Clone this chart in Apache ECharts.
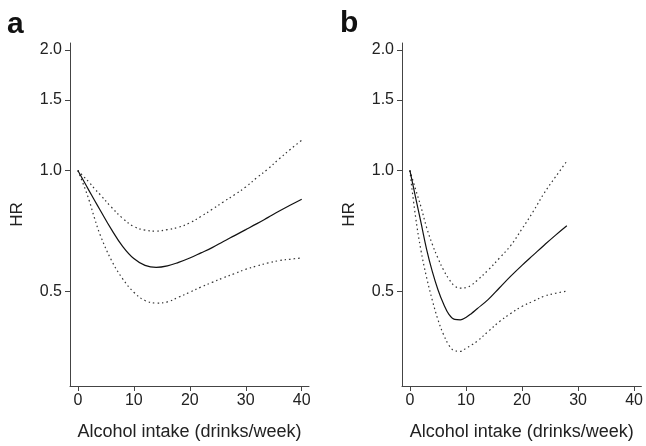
<!DOCTYPE html>
<html>
<head>
<meta charset="utf-8">
<script src="https://cdn.jsdelivr.net/npm/echarts@6/dist/echarts.min.js"></script>
<style>
  html, body { margin: 0; padding: 0; background: #fff; }
  #main { width: 646px; height: 446px; }
</style>
</head>
<body>
<div id="main"></div>
<script>
// panel a
const xA = [0, 1, 2, 3, 4, 6, 8, 10, 12, 14, 16, 18, 20, 22, 24, 26, 28, 30, 32, 34, 36, 38, 40];
const solidA = [1.0, 0.944, 0.891, 0.842, 0.796, 0.713, 0.647, 0.603, 0.58, 0.573, 0.578, 0.59, 0.605, 0.623, 0.642, 0.665, 0.688, 0.712, 0.737, 0.764, 0.792, 0.82, 0.848];
const upperA = [1.0, 0.967, 0.935, 0.9, 0.87, 0.81, 0.76, 0.725, 0.71, 0.706, 0.712, 0.722, 0.74, 0.768, 0.8, 0.835, 0.87, 0.91, 0.96, 1.01, 1.07, 1.13, 1.19];
const lowerA = [1.0, 0.923, 0.844, 0.759, 0.69, 0.597, 0.537, 0.497, 0.474, 0.467, 0.47, 0.483, 0.497, 0.512, 0.526, 0.54, 0.553, 0.567, 0.578, 0.588, 0.596, 0.601, 0.605];

// panel b
const xB = [0, 1, 2, 3, 4, 5, 6, 7, 8, 9, 10, 11, 12, 14, 16, 18, 20, 22, 24, 26, 28];
const solidB = [1.0, 0.86, 0.74, 0.635, 0.56, 0.505, 0.465, 0.437, 0.425, 0.424, 0.43, 0.44, 0.452, 0.477, 0.51, 0.545, 0.58, 0.615, 0.652, 0.69, 0.728];
const upperB = [1.0, 0.9, 0.81, 0.72, 0.655, 0.605, 0.565, 0.535, 0.515, 0.509, 0.51, 0.518, 0.532, 0.565, 0.605, 0.65, 0.715, 0.79, 0.88, 0.965, 1.055];
const lowerB = [1.0, 0.77, 0.63, 0.54, 0.475, 0.425, 0.39, 0.366, 0.355, 0.354, 0.36, 0.367, 0.375, 0.397, 0.42, 0.44, 0.458, 0.472, 0.486, 0.494, 0.5];

const xTicks = [0, 10, 20, 30, 40];
const yTicks = [0.5, 1.0, 1.5, 2.0];

const font = 'Liberation Sans, Arial, Helvetica, sans-serif';
const axisColor = '#444';

function pairs(xs, ys) {
    return xs.map((x, i) => [x, ys[i]]);
}

function xAxisFor(idx) {
    return {
        type: 'value',
        gridIndex: idx,
        min: -1.4,
        max: 41.3,
        name: 'Alcohol intake (drinks/week)',
        nameLocation: 'middle',
        nameGap: 37,
        nameTextStyle: { fontFamily: font, fontSize: 18, color: '#222' },
        axisLine: { onZero: false, lineStyle: { color: axisColor, width: 1 } },
        axisTick: { show: true, length: 5, customValues: xTicks, lineStyle: { color: axisColor } },
        axisLabel: { customValues: xTicks, margin: 7, fontFamily: font, fontSize: 16, color: '#222' },
        splitLine: { show: false }
    };
}

function yAxisFor(idx) {
    return {
        type: 'log',
        gridIndex: idx,
        min: 0.29,
        max: 2.08,
        name: 'HR',
        nameLocation: 'middle',
        nameGap: 44,
        nameTextStyle: { fontFamily: font, fontSize: 17, color: '#222' },
        axisLine: { show: true, onZero: false, lineStyle: { color: axisColor, width: 1 } },
        axisTick: { show: true, length: 5, customValues: yTicks, lineStyle: { color: axisColor } },
        axisLabel: {
            customValues: yTicks,
            margin: 8,
            fontFamily: font,
            fontSize: 16,
            color: '#222',
            formatter: v => Number(v).toFixed(1)
        },
        splitLine: { show: false }
    };
}

function line(idx, data, dotted) {
    return {
        type: 'line',
        xAxisIndex: idx,
        yAxisIndex: idx,
        data: data,
        smooth: 0.4,
        showSymbol: false,
        symbol: 'none',
        silent: true,
        lineStyle: dotted
            ? { color: '#333', width: 1.2, type: [1.5, 3] }
            : { color: '#111', width: 1.2 }
    };
}

const chart = echarts.init(document.getElementById('main'), null, { renderer: 'canvas' });
chart.setOption({
    backgroundColor: '#fff',
    animation: false,
    title: [
        { text: 'a', left: 2, top: 5, textStyle: { fontFamily: font, fontSize: 30, fontWeight: 'bold', color: '#111' } },
        { text: 'b', left: 335, top: 4, textStyle: { fontFamily: font, fontSize: 30, fontWeight: 'bold', color: '#111' } }
    ],
    grid: [
        { left: 70, top: 43, width: 239, height: 345 },
        { left: 402, top: 43, width: 240, height: 345 }
    ],
    xAxis: [xAxisFor(0), xAxisFor(1)],
    yAxis: [yAxisFor(0), yAxisFor(1)],
    series: [
        line(0, pairs(xA, upperA), true),
        line(0, pairs(xA, lowerA), true),
        line(0, pairs(xA, solidA), false),
        line(1, pairs(xB, upperB), true),
        line(1, pairs(xB, lowerB), true),
        line(1, pairs(xB, solidB), false)
    ]
});
</script>
</body>
</html>
